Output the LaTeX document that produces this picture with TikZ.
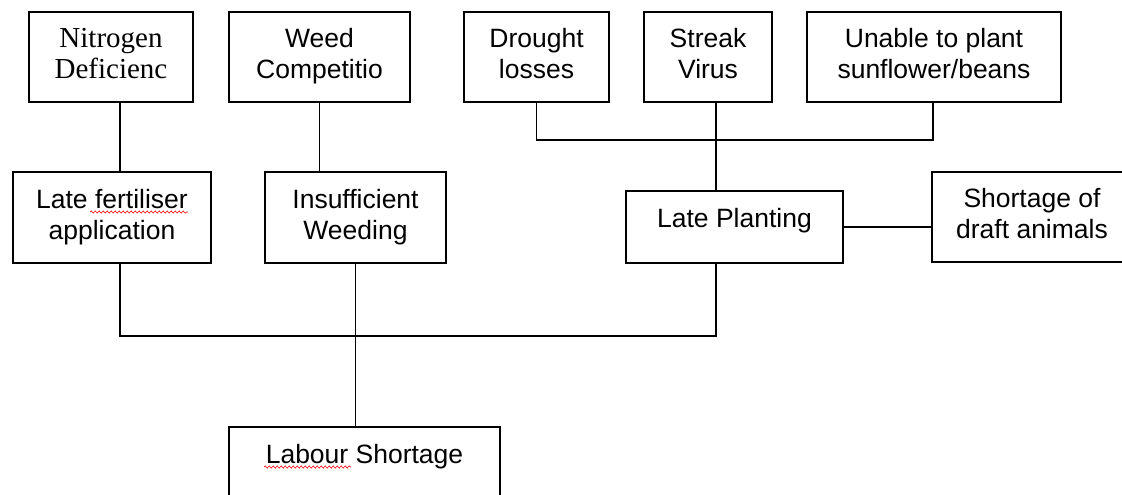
\documentclass[tikz,border=0pt]{standalone}
\usepackage{fontspec}
\setmainfont{Liberation Sans}
\newfontfamily\serifbox{Liberation Serif}
\usetikzlibrary{decorations.pathmorphing}
\tikzset{
  box/.style={draw, line width=1.4pt, inner sep=0pt, align=center,
    font=\fontsize{26.5}{31}\selectfont},
  link/.style={line width=1.5pt},
  spell/.style={red, line width=0.6pt, decorate,
    decoration={snake, amplitude=1.1pt, segment length=4pt}}
}
\begin{document}
\begin{tikzpicture}[x=1pt,y=-1pt]
\useasboundingbox (0,0) rectangle (1122,495);
\clip (0,0) rectangle (1122,495);
\fill[white] (0,0) rectangle (1122,495);

% top row
\node[box, minimum width=164pt, minimum height=90pt,
  font=\fontsize{29}{31}\selectfont\serifbox] (nit) at (111,57)
  {Nitrogen\strut\\Deficienc\strut};
\node[box, minimum width=181pt, minimum height=90pt] (weed) at (319.5,57)
  {Weed\strut\\Competitio\strut};
\node[box, minimum width=145pt, minimum height=90pt] (drought) at (536.5,57)
  {Drought\strut\\losses\strut};
\node[box, minimum width=128pt, minimum height=90pt] (streak) at (708,57)
  {Streak\strut\\Virus\strut};
\node[box, minimum width=254pt, minimum height=90pt] (unable) at (934,57)
  {Unable to plant\strut\\sunflower/beans\strut};

% middle row
\node[box, minimum width=198pt, minimum height=91pt] (late) at (112,217.5)
  {Late fertiliser\strut\\application\strut};
\node[box, minimum width=181pt, minimum height=91pt] (insuf) at (355.5,217.5)
  {Insufficient\strut\\Weeding\strut};
\node[box, minimum width=217pt, minimum height=72pt,
  text height=12pt, text depth=12pt] (lp) at (734.5,227)
  {Late Planting};
\node[box, minimum width=200pt, minimum height=90pt] (short) at (1032,217)
  {Shortage of\strut\\draft animals\strut};

% bottom
\node[box, minimum width=271pt, minimum height=102pt,
  text height=20pt, text depth=50pt] (labour) at (364.5,478)
  {Labour Shortage};

% spell-check underlines
\draw[spell] (90,212) -- (188,212);
\draw[spell] (264,467) -- (351,467);

% connectors
\draw[link] ([xshift=9pt]nit.south) -- ([xshift=9pt]nit.south |- late.north);
\draw[link] (weed.south) -- (weed.south |- insuf.north);

\coordinate (tj) at (716,140);
\draw[link] (drought.south) |- (tj) -| ([xshift=-1pt]unable.south);
\draw[link] (tj |- streak.south) -- (tj |- lp.north);
\draw[link] (lp.east) -- (lp.east -| short.west);

\coordinate (bj) at (355,336);
\draw[link] ([xshift=8pt]late.south) |- (bj) -| ([xshift=-18.5pt]lp.south);
\draw[link] (insuf.south) -- (insuf.south |- labour.north);
\end{tikzpicture}
\end{document}
